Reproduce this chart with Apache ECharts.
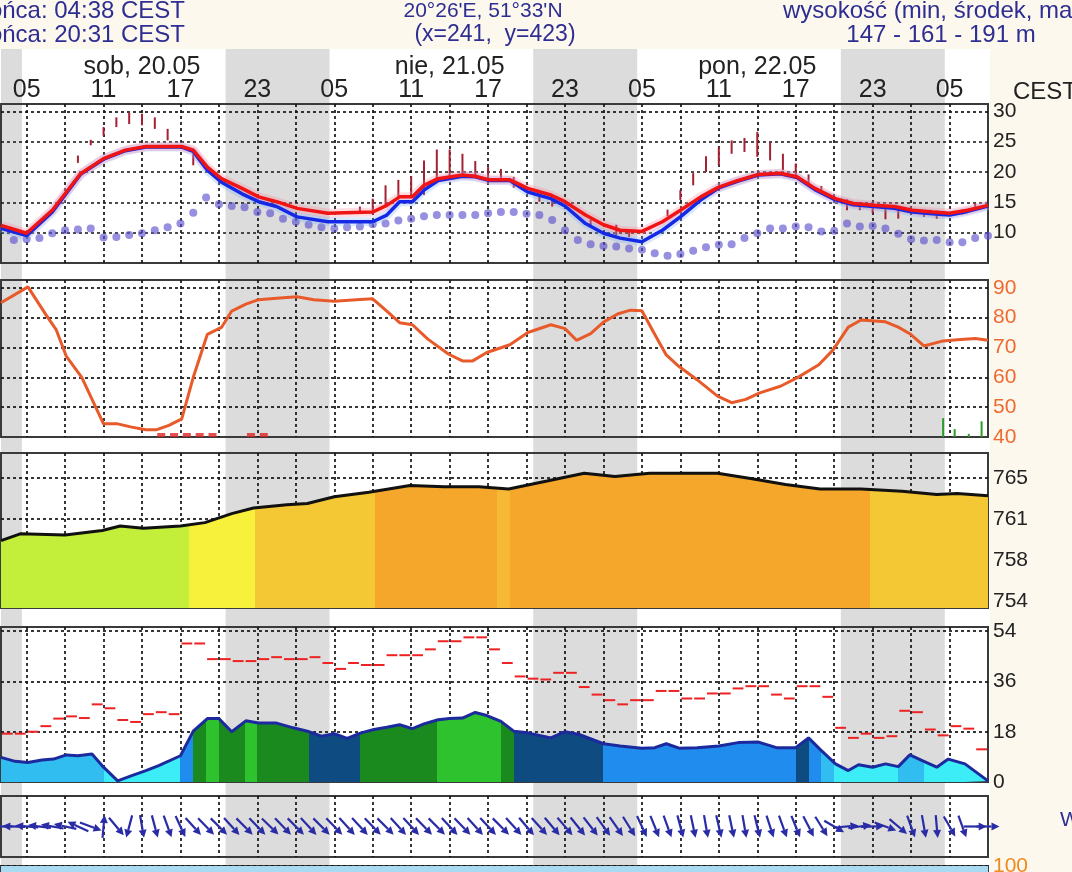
<!DOCTYPE html>
<html><head><meta charset="utf-8">
<script src="https://cdn.jsdelivr.net/npm/echarts@6/dist/echarts.min.js"></script>
<style>html,body{margin:0;padding:0;background:#fff}#c{width:1072px;height:872px}</style>
</head><body><div id="c"></div>
<script>
// ---------- DATA (hours counted from 00:00 CEST, sob 20.05) ----------
const gridHours = [5,8,11,14,17,20,23,26,29,32,35,38,41,44,47,50,53,56,59,62,65,68,71,74,77];
const hourLabelHours = [5,11,17,23,29,35,41,47,53,59,65,71,77];
const hourLabels = ['05','11','17','23','05','11','17','23','05','11','17','23','05'];
const dayLabelHours = [14,38,62];
const dayLabels = ['sob, 20.05','nie, 21.05','pon, 22.05'];
const nightStarts = [3, 20.52, 44.52, 68.52];
const nightEnds = [4.63, 28.63, 52.63, 76.63];

const tempHours = [3,5,7,9.2,11,12.7,14.3,17.1,18,19.1,20.2,21.8,23.1,24.5,26.1,28.5,29.8,32,33.1,34.1,35.1,36,37.1,39,40,41.1,42.7,44.1,45.9,47,48.6,50,51.3,53,54.6,56,57.6,59,60.5,62.1,63.8,65.1,66.5,68.1,69.5,71.1,72.7,74.1,75.7,77,78.4,80];
const tempRed = [11.2,9.9,13.7,19.7,22.2,23.6,24.2,24.2,23.6,20.8,18.9,17.3,15.9,15.1,14.0,13.2,13.3,13.4,14.5,15.9,15.9,17.8,18.9,19.5,19.3,18.7,18.7,17.3,16.2,15.1,12.9,11.3,10.4,10.2,11.8,13.7,15.9,17.5,18.6,19.6,19.8,19.2,17.3,15.6,14.8,14.5,14.3,13.7,13.4,13.2,13.7,14.5];
const tempBlue = [10.7,9.5,13.4,19.6,22.1,23.5,24.1,24.1,23.4,20.3,18.3,16.4,15.1,14.3,12.6,11.8,11.8,11.8,12.9,15.1,15.1,17.0,18.6,19.3,19.2,18.6,18.6,16.7,15.6,14.4,11.5,9.9,9.1,8.5,10.4,12.6,15.4,17.4,18.5,19.5,19.7,19.1,17.1,15.4,14.6,14.3,14.0,13.4,13.1,12.9,13.5,14.4];
const dewHours = [4,5,6,7,8,9,10,11,12,13,14,15,16,17,18,19,20,21,22,23,24,25,26,27,28,29,30,31,32,33,34,35,36,37,38,39,40,41,42,43,44,45,46,47,48,49,50,51,52,53,54,55,56,57,58,59,60,61,62,63,64,65,66,67,68,69,70,71,72,73,74,75,76,77,78,79,80];
const dewValues = [8.8,8.9,9.1,9.9,10.4,10.5,10.7,9.2,9.3,9.6,9.9,10.4,10.9,11.5,13.3,15.8,14.7,14.4,14.2,13.4,13.2,12.3,11.8,11.3,10.9,10.7,10.9,11.0,11.4,11.5,12.0,12.3,12.7,12.9,12.9,12.9,12.9,13.2,13.4,13.4,13.1,12.9,12.1,10.4,8.8,8.1,7.8,7.7,7.4,7.2,6.6,6.2,6.5,7.0,7.6,8.0,8.1,9.1,9.9,10.7,10.7,11.0,10.9,10.2,10.3,11.5,11.0,11.1,10.7,9.8,8.9,8.7,8.8,8.4,8.4,9.1,9.5];
const tempBarHours = [9,10,11,12,13,14,15,16,18,31,32,33,34,35,36,37,38,39,40,41,42,43,45,46,49,51,52,55,56,57,58,59,60,61,62,63,64,65,66,67,69,70,71,72,73,75,76,78,79];
const tempBarLow = [21.5,24.4,26.0,27.4,27.9,27.7,27.1,25.2,21.1,13.4,13.4,14.5,15.8,15.9,16.2,18.6,19.3,19.5,19.3,19.1,18.7,17.4,15.1,14.3,11.0,9.6,9.3,12.7,15.4,17.8,20.0,21.1,23.0,23.3,22.5,21.9,20.3,19.2,18.1,16.4,13.7,13.7,13.2,12.2,12.3,12.6,12.3,13.0,14.0];
const tempBarHigh = [22.7,25.3,27.4,29.0,29.8,29.6,29.0,27.1,23.0,14.3,15.6,17.8,18.7,19.3,21.9,23.7,23.7,23.0,21.8,20.8,20.5,19.2,16.4,15.6,12.1,11.3,10.4,13.8,17.0,19.8,22.6,24.1,25.2,25.6,26.6,24.9,23.0,21.4,19.6,17.7,15.5,14.8,14.5,14.3,14.0,13.7,13.6,13.8,14.9];
const tempTicks = [10,15,20,25,30];

const rhHours = [3,5.1,6.5,7.3,8.1,9.3,11,12.1,13.2,14.3,15.1,16.1,17.1,18,19.1,20.2,21,22.1,23.1,24.5,26.1,27.4,29,30.7,32,33.1,34.1,35.1,36.3,37.9,39,39.8,40.9,42.7,44.1,45.9,47,47.9,49,50,51.1,52.1,53,53.9,54.9,55.9,57.3,58.9,60,61.1,62.2,63.8,65.1,66.8,67.9,69.1,70.1,72,73,73.9,75,76.5,77.6,79,80];
const rhValues = [85.0,90.3,81,76,67,60,44.4,44.4,43.3,42.4,42.4,43.9,46.1,60,74.4,76.7,82.2,84.5,86,86.5,87,86,85.5,86,86.3,82.2,78.3,77.6,72.8,67.8,65.5,65.5,68.3,70.9,75,77.6,76.3,72.4,74.6,78.5,81.2,82.5,82.3,75.2,67.5,63.6,59.2,53.7,51.5,52.6,54.8,57,59.8,64.2,69.1,76.8,79.2,78.6,76.8,74.6,70.5,72.2,72.6,73,72.4];
const rhMarkHours = [15.5,16.5,17.5,18.5,19.5,22.5,23.5];
const precipHours = [76.5,77.4,78.5,79.5];
const precipValues = [0.6,0.25,0.1,0.5];
const rhTicks = [50,60,70,80,90];
const rhLabels = [40,50,60,70,80,90];

const pressHours = [3,4.5,8,10.9,12.3,14.1,17,18.9,21,22.7,25.3,26.9,29,31.7,34.9,37.6,40.3,42.6,45.6,48.5,50.9,53.6,56.3,58.9,61.6,64.2,66.9,70.1,73.3,76,77.6,80];
const pressValues = [759.4,760.0,759.9,760.3,760.7,760.5,760.7,761.0,761.8,762.3,762.6,762.7,763.3,763.7,764.3,764.2,764.2,764.0,764.7,765.4,765.1,765.4,765.4,765.4,764.9,764.4,764.0,764.0,763.8,763.5,763.6,763.4];
const pressBandStarts = [3,17.7,22.8,32.2,41.7,42.7,70.8];
const pressBandClass = [0,1,2,3,4,3,2];
const pressTicks = [754,757.667,761.333,765];

const windHours = [3,4.1,5.1,6.2,7.1,8.1,9,10.1,11,12.1,13.2,14.3,15.3,17,18,19.1,20,21,22.1,23.1,24.5,25.8,26.9,28,29,30,31.1,32.1,33.1,34.1,35.1,36,37.1,38,39,40,40.9,42,43,44.1,45.9,47,48.1,50,51.3,53,54,54.9,55.9,57.3,59,60.5,62.1,63.5,65,66,66.9,68.1,69.1,69.9,71,72,73,73.9,75,76,76.9,78.2,80];
const windValues = [8.8,7.4,7.0,7.9,8.2,9.7,9.4,10,5.3,0.4,2.3,4.1,5.9,9.4,18.2,22.7,22.7,18,21.9,21.1,21.1,19.4,18.2,16.4,17.3,15.6,17.6,18.8,19.6,20.5,19.1,20.8,22.3,22.7,22.9,24.9,23.8,21.7,18.2,17.6,15.8,18,17,13.7,12.9,12.1,12.3,13.7,12.1,12.3,12.9,14.1,14.3,12.3,12.3,15.8,11.7,6.5,4.1,6.2,5.3,6.5,5.5,9.7,7.4,5.3,8.2,6.5,0.4];
const windBandStarts = [3,11,16,17,18,19,20,22,23,27,31,37,42,43,50,65,66,67,68,73,75];
const windBandClass = [1,0,0,2,4,5,4,5,4,3,4,5,4,3,2,3,2,1,0,1,0];
const gustHours = [3,4,5,6,7,8,9,10,11,12,13,14,15,16,17,18,19,20,21,22,23,24,25,26,27,28,29,30,31,32,33,34,35,36,37,38,39,40,41,42,43,44,45,46,47,48,49,50,51,52,53,54,55,56,57,58,59,60,61,62,63,64,65,66,67,68,69,70,71,72,73,74,75,76,77,78,79];
const gustValues = [17.3,17.3,18.0,20.0,22.7,23.5,22.9,27.8,26.4,22.2,21.5,24.3,25.0,24.3,49.6,49.6,44.0,44.0,43.3,43.3,44.0,44.7,44.0,44.0,44.7,42.6,40.5,42.6,41.9,41.9,45.4,45.4,45.4,47.5,50.4,50.4,51.8,51.8,47.5,42.6,37.8,37.0,36.7,39.1,39.1,34.0,31.3,29.3,27.8,29.3,29.3,32.6,32.6,29.9,29.9,31.7,31.7,33.5,34.3,34.3,31.3,29.9,34.3,34.3,30.5,19.4,15.8,17.3,15.8,16.4,25.5,25.0,18.8,16.7,20.0,19.1,11.7];
const windTicks = [18,36,54];
const windLabels = [0,18,36,54];

const dirHours = [3,4,5,6,7,8,9,10,11,12,13,14,15,16,17,18,19,20,21,22,23,24,25,26,27,28,29,30,31,32,33,34,35,36,37,38,39,40,41,42,43,44,45,46,47,48,49,50,51,52,53,54,55,56,57,58,59,60,61,62,63,64,65,66,67,68,69,70,71,72,73,74,75,76,77,78,79,80];
const dirValues = [90,92,95,97,100,102,115,290,185,320,15,350,345,340,335,318,316,315,318,315,316,314,316,315,317,315,316,318,317,316,315,318,317,316,315,317,316,318,317,315,318,320,318,320,319,321,322,324,325,328,335,338,340,345,348,350,347,348,350,346,342,340,338,333,328,300,265,262,268,290,310,340,350,355,330,340,270,270];

const cloudHours = [3,80];
const cloudValues = [100,100];

// ---------- STYLES ----------
const FONT = '"Liberation Sans", Arial, sans-serif';
const pressColors = ['#c3ef3a','#f8f13b','#f4c834','#f5a72b','#f7b836'];
const windColors = ['#3cecf7','#31bdf0','#1f8cee','#0d4b80','#1a8a1e','#2ec22e'];
const zip = (a,b) => a.map((h,i)=>[h,b[i]]);
const pieces = (starts, cls, colors, end) => starts.map((s,i)=>({gte:s, lt:(i<starts.length-1?starts[i+1]:end+1), color:colors[cls[i]]}));

const gridDefs = [
  {top:49, height:823, show:false},
  {top:104, height:159},
  {top:280, height:157},
  {top:453, height:155},
  {top:627, height:155},
  {top:796, height:61},
  {top:866, height:60}
];
const grids = gridDefs.map(g => Object.assign({left:1, width:987, show:true, borderColor:'#3a3a3a', borderWidth:2, backgroundColor:'transparent'}, g));

const dash = {show:true, lineStyle:{color:'#151515', width:1.7, type:[3,3]}};
const xAxes = grids.map((g,i) => ({
  type:'value', gridIndex:i, min:3, max:80, position: i===1?'top':'bottom',
  axisLine:{show:false},
  axisTick:{show:false, customValues:gridHours},
  axisLabel: i===1 ? {show:true, customValues:hourLabelHours, margin:1, fontSize:25, color:'#222', fontFamily:FONT,
      formatter:v=>hourLabels[hourLabelHours.indexOf(v)]} : {show:false},
  splitLine: i===0 ? {show:false} : dash
}));
xAxes.push({type:'value', gridIndex:1, min:3, max:80, position:'top', offset:24,
  axisLine:{show:false}, axisTick:{show:false}, splitLine:{show:false},
  axisLabel:{show:true, customValues:dayLabelHours, margin:0, fontSize:25, color:'#222', fontFamily:FONT,
    formatter:v=>dayLabels[dayLabelHours.indexOf(v)]}});

function yAx(i, min, max, ticks, labels, color, fmt){
  return {type:'value', gridIndex:i, min:min, max:max, position:'right',
    axisLine:{show:false},
    axisTick:{show:false, customValues:ticks||[]},
    axisLabel: labels ? {show:true, customValues:labels, margin:5, fontSize:21, color:color, fontFamily:FONT, formatter: fmt || (v=>String(v))} : {show:false},
    splitLine: ticks ? {show:true, lineStyle:{color:'#151515', width:1.7, type:[3,3]}} : {show:false}};
}
const yAxes = [
  yAx(0,0,1,null,null),
  yAx(1,5,31.2,tempTicks,tempTicks,'#222'),
  yAx(2,40,92.6,rhTicks,rhLabels,'#ee6a30'),
  yAx(3,753.4,767.2,pressTicks,pressTicks,'#222',v=>String(Math.round(v))),
  yAx(4,0,55.5,windTicks,windLabels,'#222'),
  yAx(5,0,1,null,null),
  yAx(6,0,100,[100],[100],'#f08a20'),
  {type:'value', gridIndex:2, min:0, max:5, show:false}
];

const series = [];
function add(s){ series.push(s); return series.length-1; }

// night bands
add({type:'custom', xAxisIndex:0, yAxisIndex:0, z:-5, silent:true,
  data: nightStarts.map((s,i)=>[s, nightEnds[i]]),
  renderItem:(p,api)=>{ const a=api.coord([api.value(0),1]); const b=api.coord([api.value(1),0]);
    return {type:'rect', shape:{x:a[0], y:a[1], width:b[0]-a[0], height:b[1]-a[1]}, style:{fill:'#dcdcdc'}}; }});

// temperature
add({type:'line', xAxisIndex:1, yAxisIndex:1, data:zip(tempHours,tempBlue), showSymbol:false, lineStyle:{width:9, color:'rgba(120,170,255,0.28)'}});
add({type:'line', xAxisIndex:1, yAxisIndex:1, data:zip(tempHours,tempRed), showSymbol:false, lineStyle:{width:9, color:'rgba(255,130,150,0.28)'}});
add({type:'custom', xAxisIndex:1, yAxisIndex:1,
  data: tempBarHours.map((h,i)=>[h, tempBarLow[i], tempBarHigh[i]]),
  renderItem:(p,api)=>{ const a=api.coord([api.value(0),api.value(1)]); const b=api.coord([api.value(0),api.value(2)]);
    return {type:'line', shape:{x1:a[0],y1:a[1],x2:b[0],y2:b[1]}, style:{stroke:'#a32035', lineWidth:2}}; }});
add({type:'scatter', xAxisIndex:1, yAxisIndex:1, data:zip(dewHours,dewValues), symbolSize:8, itemStyle:{color:'rgba(92,80,205,0.8)'}});
add({type:'line', xAxisIndex:1, yAxisIndex:1, data:zip(tempHours,tempBlue), showSymbol:false, lineStyle:{width:3.5, color:'#1428e6'}});
add({type:'line', xAxisIndex:1, yAxisIndex:1, data:zip(tempHours,tempRed), showSymbol:false, lineStyle:{width:3.5, color:'#f01414'}});

// humidity
add({type:'line', xAxisIndex:2, yAxisIndex:2, data:zip(rhHours,rhValues), showSymbol:false, lineStyle:{width:3, color:'#e85a2a'}});
add({type:'scatter', xAxisIndex:2, yAxisIndex:2, data:rhMarkHours.map(h=>[h,40]), symbol:'rect', symbolSize:[8,4], symbolOffset:[0,-2], itemStyle:{color:'#dd2424'}});
add({type:'custom', xAxisIndex:2, yAxisIndex:7, data:zip(precipHours,precipValues),
  renderItem:(p,api)=>{ const a=api.coord([api.value(0),0]); const b=api.coord([api.value(0),api.value(1)]);
    return {type:'line', shape:{x1:a[0],y1:a[1],x2:b[0],y2:b[1]}, style:{stroke:'#2a9a2a', lineWidth:2}}; }});

// pressure
const pressArea = add({type:'line', xAxisIndex:3, yAxisIndex:3, data:zip(pressHours,pressValues), showSymbol:false,
  lineStyle:{width:0, opacity:0}, areaStyle:{opacity:1}});
add({type:'line', xAxisIndex:3, yAxisIndex:3, data:zip(pressHours,pressValues), showSymbol:false, lineStyle:{width:3, color:'#111'}});

// wind
const windArea = add({type:'line', xAxisIndex:4, yAxisIndex:4, data:zip(windHours,windValues), showSymbol:false,
  lineStyle:{width:0, opacity:0}, areaStyle:{opacity:1}});
add({type:'custom', xAxisIndex:4, yAxisIndex:4, data:zip(gustHours,gustValues),
  renderItem:(p,api)=>{ const a=api.coord([api.value(0),api.value(1)]); const b=api.coord([api.value(0)+1,api.value(1)]);
    return {type:'line', shape:{x1:a[0]+1,y1:a[1],x2:b[0]-1,y2:b[1]}, style:{stroke:'#ee2222', lineWidth:2}}; }});
add({type:'line', xAxisIndex:4, yAxisIndex:4, data:zip(windHours,windValues), showSymbol:false, lineStyle:{width:3, color:'#1c2a9e'}});

// wind direction arrows
add({type:'custom', xAxisIndex:5, yAxisIndex:5, data:zip(dirHours,dirValues),
  renderItem:(p,api)=>{
    const c = api.coord([api.value(0),0.5]);
    const to = (api.value(1)+180)*Math.PI/180;
    const dx = Math.sin(to), dy = -Math.cos(to);
    const L = 23, hl = 8, hw = 4;
    const x1=c[0]-dx*L/2, y1=c[1]-dy*L/2, x2=c[0]+dx*L/2, y2=c[1]+dy*L/2;
    const bx=x2-dx*hl, by=y2-dy*hl, px=-dy, py=dx;
    return {type:'group', children:[
      {type:'line', shape:{x1:x1,y1:y1,x2:bx,y2:by}, style:{stroke:'#2a2ca6', lineWidth:2.2}},
      {type:'polygon', shape:{points:[[x2,y2],[bx+px*hw,by+py*hw],[bx-px*hw,by-py*hw]]}, style:{fill:'#2a2ca6'}}
    ]};
  }});

// bottom strip
add({type:'line', xAxisIndex:6, yAxisIndex:6, data:zip(cloudHours,cloudValues), showSymbol:false, lineStyle:{width:0}, areaStyle:{color:'#a8daf1', opacity:1}});

const txt = (x,y,text,align,color,size) => ({type:'text', x:x, y:y, z:100,
  style:{text:text, font:(size||24)+'px '+FONT, fill:color||'#2e2e92', textAlign:align||'left', textVerticalAlign:'middle'}});

const option = {
  animation:false,
  backgroundColor:'#ffffff',
  textStyle:{fontFamily:FONT},
  grid: grids,
  xAxis: xAxes,
  yAxis: yAxes,
  visualMap:[
    {type:'piecewise', show:false, dimension:0, seriesIndex:pressArea, pieces:pieces(pressBandStarts,pressBandClass,pressColors,80)},
    {type:'piecewise', show:false, dimension:0, seriesIndex:windArea, pieces:pieces(windBandStarts,windBandClass,windColors,80)}
  ],
  series: series,
  graphic:{elements:[
    {type:'rect', z:-20, shape:{x:0,y:0,width:1072,height:49}, style:{fill:'#fcf8ee'}},
    {type:'rect', z:-20, shape:{x:990,y:0,width:82,height:872}, style:{fill:'#fcf8ee'}},
    txt(185,11,'Wschód słońca: 04:38 CEST','right'),
    txt(185,35,'Zachód słońca: 20:31 CEST','right'),
    txt(483,11,"20°26'E, 51°33'N",'center','#2e2e92',21),
    txt(495,35,'(x=241,  y=423)','center','#2e2e92',23),
    txt(783,11,'wysokość (min, środek, max)','left'),
    txt(941,35,'147 - 161 - 191 m','center'),
    txt(1013,92,'CEST','left','#222',24),
    txt(1060,820,'W','left','#2e2e92',21)
  ]}
};
const chart = echarts.init(document.getElementById('c'), null, {renderer:'canvas'});
chart.setOption(option);
</script></body></html>
